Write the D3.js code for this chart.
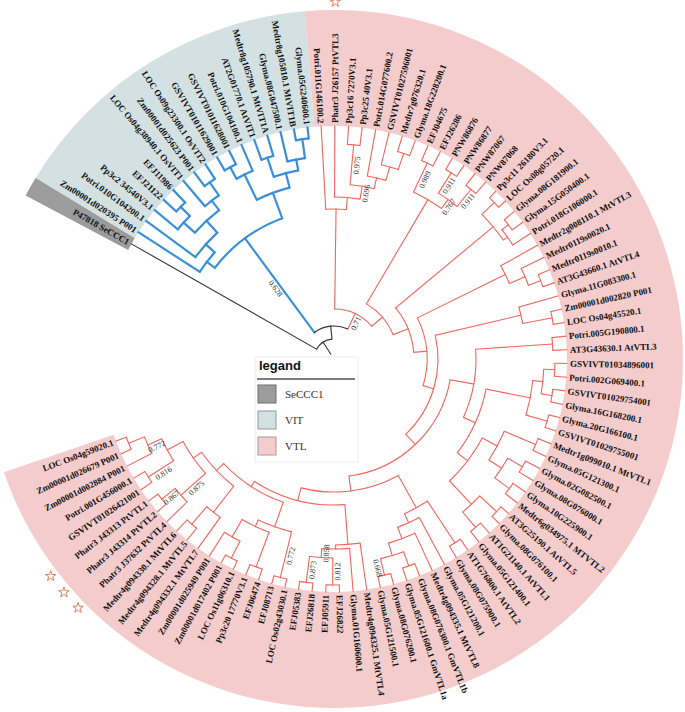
<!DOCTYPE html>
<html><head><meta charset="utf-8">
<script src="https://cdn.jsdelivr.net/npm/d3@7"></script>
<style>
html,body{margin:0;padding:0;background:#fff;}
svg{display:block;}
</style></head><body>
<svg id="chart" width="685" height="712"></svg>
<script>
// ---------------- DATA ----------------
const leafLabels = [
 "P47818 SeCCC1","Zm00001d020395 P001","Potri.010G104200.1","Pp3c2 34540V3.1","EFJ21122","EFJ11986",
 "LOC Os04g38940.1 OsVIT1","Zm00001d025623 P001","LOC Os09g23300.1 OsVIT2","GSVIVT01011629001","GSVIVT01011628001",
 "Potri.010G104100.1","AT2G01770.1 AtVIT1","Medtr8g105790.1 MtVIT1A","Glyma.08G047500.1","Medtr8g105810.1 MtVIT1B",
 "Glyma.05G240600.1","Potri.011G146100.2","Phatr3 J26157 PtVTL3","Pp3c16 7270V3.1","Pp3c25 40V3.1","Potri.014G077600.2",
 "GSVIVT01027596001","Medtr7g076320.1","Glyma.18G228200.1","EFJ04675","EFJ26286","PNW86876","PNW86877","PNW87067",
 "PNW87068","Pp3c11 26180V3.1","LOC Os08g05720.1","Glyma.08G181900.1","Glyma.15G050400.1","Potri.018G106000.1",
 "Medtr2g008110.1 MtVTL3","Medtr0119s0020.1","Medtr0119s0010.1","AT3G43660.1 AtVTL4","Glyma.11G083300.1",
 "Zm00001d002820 P001","LOC Os04g45520.1","Potri.005G190800.1","AT3G43630.1 AtVTL3","GSVIVT01034896001",
 "Potri.002G069400.1","GSVIVT01029754001","Glyma.16G168200.1","Glyma.20G166100.1","GSVIVT01029755001",
 "Medtr1g099010.1 MtVTL1","Glyma.05G121300.1","Glyma.02G082500.1","Glyma.08G076000.1","Glyma.10G225900.1",
 "Medtr6g034975.1 MTVTL2","AT3G25190.1 AtVTL5","Glyma.08G076100.1","AT1G21140.1 AtVTL1","Glyma.05G121400.1",
 "AT1G76800.1 AtVTL2","Glyma.08G075900.1","Glyma.05G121200.1","Medtr4g094335.1 MtVTL8","Glyma.08G076300.1 GmVTL1b",
 "Glyma.05G121600.1 GmVTL1a","Glyma.08G076200.1","Glyma.05G121500.1","Medtr4g094325.1 MtVTL4","Glyma.01G160600.1",
 "EFJ26822","EFJ05911","EFJ26818","EFJ05383","LOC Os02g43030.1","EFJ08713","EFJ06474","Pp3c20 17770V3.1",
 "LOC Os11g06310.1","Zm00001d017402 P001","Zm00001d025949 P001","Medtr4g094332.1 MtVTL7","Medtr4g094328.1 MtVTL5",
 "Medtr4g094330.1 MtVTL6","Phatr3 J37632 PtVTL4","Phatr3 J43314 PtVTL2","Phatr3 J43313 PtVTL1","GSVIVT01026421001",
 "Potri.001G456000.1","Zm00001d002884 P001","Zm00001d026679 P001","LOC Os04g59020.1"
];

// clades in Newick (leaf Ln = leafLabels[n-1]; internal labels = support values; :x = branch length)
const cladeVIT = "((L2,(L3,((L4,(L5,L6):13):15,(L7,(L8,L9):16):12):16):12):10,(((L10,L11):13,L12):28,((L13,L14):20,(L15,(L16,L17):19):11):15):27)0.628";
const cladeT1  = "(L18,(L19,((L20,L21)0.975:40,(L22,(L23,(L24,L25):17):14):11)0.696:13):12)";
const cladeP   = "((L26,L27)0.989:32,((L28,L29)0.911:24,(L30,L31)0.911:22)0.767:11)";
const cladeQ   = "((L32,L33):17,((L34,L35):8,L36):5)";
const cladeR   = "(L37,(L38,(L39,L40):13):17)";
const cladeS   = "(L41,(L42,L43):30)";
const cladeW   = "((L44,L45):77,((((L46,L47):11,(L48,L49):11):10,(L50,L51):22):45,(((L52,L53):34,((L54,L55):17,(L56,L57):18):15):17,((L58,L59):23,(L60,L61):20):32):13):13)";
const cladeU3b = "((L62,L63):50,(L64,(L65,((L66,L67):15,(L68,L69)0.668:17):13):12):10)";
const cladeU45 = "(L70,(L71,((L72,L73)0.812:27,(L74,L75)0.873:26)0.858:9):4)";
const cladeU67 = "((L76,L77)0.772:47,((L78,L79):37,((L80,L81):19,L82):20):7)";
const cladeU8  = "(L83,(L84,L85):23)";
const cladeU9  = "(L86,(L87,L88)0.867:17)0.875";
const cladeU10 = "((L89,L90)0.816:30,(L91,(L92,L93):17)0.772:15)";

const treeNewick =
 `(L1,(${cladeVIT}:117,(${cladeT1}:100,(${cladeP}:121,(${cladeQ}:127,(${cladeR}:98,(${cladeS}:88,(${cladeW}:24,(${cladeU3b}:37,(${cladeU45}:40,(${cladeU67}:26,(${cladeU8}:33,(${cladeU9}:33,${cladeU10}:18):10):10):6):13):15):14):11):13):16):14)0.71:17):13):14;`;

const groups = [
 {name:"SeCCC1", first:1,  last:1,  fill:"#9c9c9c", branch:"#333333", width:1.1, swatchStroke:"#6e6e6e"},
 {name:"VIT",    first:2,  last:17, fill:"#d3e1e3", branch:"#3a8fd8", width:2.2, swatchStroke:"#8d9a9c"},
 {name:"VTL",    first:18, last:93, fill:"#f4cccc", branch:"#f2645c", width:1.1, swatchStroke:"#a89a9a"}
];
const legendItems = ["SeCCC1","VIT","VTL"];
const starredLeaves = [19, 86, 87, 88];   // Phatr3 genes

// ---------------- LAYOUT ----------------
const cx = 334, cy = 359;
const tipR = 233, ringOuter = 349, labelGap = 3, starR = 357;
const slot = 3.367, firstLeafAngle = 299.6;
const rad = Math.PI / 180;
const a0 = firstLeafAngle - slot / 2;

function parseNewick(s) {
  let i = 0;
  function node() {
    const n = {};
    if (s[i] === '(') {
      i++; n.children = [];
      while (true) {
        n.children.push(node());
        if (s[i] === ',') { i++; continue; }
        if (s[i] === ')') { i++; break; }
      }
    }
    let name = '';
    while (i < s.length && !',):;'.includes(s[i])) name += s[i++];
    n.name = name;
    n.length = 0;
    if (s[i] === ':') {
      i++; let len = '';
      while (i < s.length && !',);'.includes(s[i])) len += s[i++];
      n.length = +len;
    }
    return n;
  }
  return node();
}

const svg = d3.select('#chart');
const g = svg.append('g').attr('transform', `translate(${cx},${cy})`);

// highlight ring
const ringArc = d3.arc().innerRadius(tipR).outerRadius(ringOuter);
g.append('g').selectAll('path').data(groups).join('path')
  .attr('d', d => ringArc({startAngle: (a0 + (d.first - 1) * slot) * rad, endAngle: (a0 + d.last * slot) * rad}))
  .attr('fill', d => d.fill);

// hierarchy
const root = d3.hierarchy(parseNewick(treeNewick));
root.eachBefore(d => { d.dist = (d.parent ? d.parent.dist : 0) + d.data.length; });
d3.cluster().size([leafLabels.length * slot, 1]).separation(() => 1)(root);
const rScale = d3.scaleLinear().domain([0, 227]).range([6, tipR]);
root.each(d => {
  d.ang = a0 + d.x;
  d.r = d.children ? rScale(d.dist) : tipR;
});
const leafIdx = d => +d.data.name.slice(1);
const groupOf = idx => groups.find(gr => idx >= gr.first && idx <= gr.last);
root.each(d => {
  const set = new Set(d.leaves().map(l => groupOf(leafIdx(l)).name));
  d.grp = set.size === 1 ? groups.find(gr => gr.name === [...set][0]) : null;
});
const colorOf = d => d.grp ? d.grp.branch : "#333333";
const widthOf = d => d.grp ? d.grp.width : 1.1;
const pt = (r, a) => [r * Math.sin(a * rad), -r * Math.cos(a * rad)];

// radial branches
const branches = g.append('g').attr('fill', 'none');
branches.selectAll('path.radial').data(root.descendants()).join('path')
  .attr('class', 'radial')
  .attr('d', d => {
    const r0 = d.parent ? d.parent.r : rScale(0);
    const p = d3.path();
    const s = pt(r0, d.ang), e = pt(d.r, d.ang);
    p.moveTo(s[0], s[1]); p.lineTo(e[0], e[1]);
    return p.toString();
  })
  .attr('stroke', colorOf).attr('stroke-width', widthOf).attr('stroke-linecap', 'square');

// arcs of internal nodes
branches.selectAll('path.arc').data(root.descendants().filter(d => d.children)).join('path')
  .attr('class', 'arc')
  .attr('d', d => {
    const aS = d.children[0].ang, aE = d.children[d.children.length - 1].ang;
    const p = d3.path();
    p.arc(0, 0, d.r, (aS - 90) * rad, (aE - 90) * rad, false);
    return p.toString();
  })
  .attr('stroke', colorOf).attr('stroke-width', widthOf);

// leaf labels
const flip = a => { const m = ((a % 360) + 360) % 360; return m > 180; };
g.append('g').selectAll('text').data(root.leaves()).join('text')
  .attr('transform', d => `rotate(${d.ang - 90}) translate(${tipR + labelGap},0)${flip(d.ang) ? ' rotate(180)' : ''}`)
  .attr('text-anchor', d => flip(d.ang) ? 'end' : 'start')
  .attr('dy', '0.35em')
  .attr('font-family', '"Liberation Serif", "Times New Roman", serif')
  .attr('font-weight', 'bold')
  .attr('font-size', 9)
  .attr('fill', '#111')
  .text(d => leafLabels[leafIdx(d) - 1]);

// support values
g.append('g').selectAll('text').data(root.descendants().filter(d => d.children && d.data.name !== '')).join('text')
  .attr('transform', d => `rotate(${d.ang - 90}) translate(${(d.parent.r + d.r) / 2},0)${flip(d.ang) ? ' rotate(180)' : ''}`)
  .attr('text-anchor', 'middle')
  .attr('dy', '0.95em')
  .attr('font-family', '"Liberation Serif", "Times New Roman", serif')
  .attr('font-size', 8)
  .attr('fill', '#333')
  .text(d => d.data.name);

// stars
const starPath = d3.symbol().type(d3.symbolStar).size(34)();
g.append('g').selectAll('path').data(root.leaves().filter(d => starredLeaves.includes(leafIdx(d)))).join('path')
  .attr('transform', d => { const p = pt(starR, d.ang); return `translate(${p[0]},${p[1]})`; })
  .attr('d', starPath)
  .attr('fill', '#fff').attr('stroke', '#d9825b').attr('stroke-width', 1);

// legend
const legend = svg.append('g').attr('transform', 'translate(255,357)');
legend.append('rect').attr('width', 103).attr('height', 105).attr('fill', '#fff').attr('stroke', '#ececec');
legend.append('text').attr('x', 4).attr('y', 13).text('legand')
  .attr('font-family', '"Liberation Sans", Arial, sans-serif').attr('font-weight', 'bold')
  .attr('font-size', 13).attr('fill', '#111');
legend.append('line').attr('x1', 2).attr('x2', 100).attr('y1', 22).attr('y2', 22)
  .attr('stroke', '#555').attr('stroke-width', 1.3);
const ly = d3.scalePoint().domain(legendItems).range([28, 80]);
const item = legend.selectAll('g.item').data(legendItems).join('g').attr('class', 'item')
  .attr('transform', d => `translate(3,${ly(d)})`);
item.append('rect').attr('width', 18).attr('height', 18)
  .attr('fill', d => groups.find(gr => gr.name === d).fill)
  .attr('stroke', d => groups.find(gr => gr.name === d).swatchStroke);
item.append('text').attr('x', 27).attr('y', 13).text(d => d)
  .attr('font-family', '"Liberation Serif", "Times New Roman", serif')
  .attr('font-size', 11).attr('fill', '#333');
</script>
</body></html>
